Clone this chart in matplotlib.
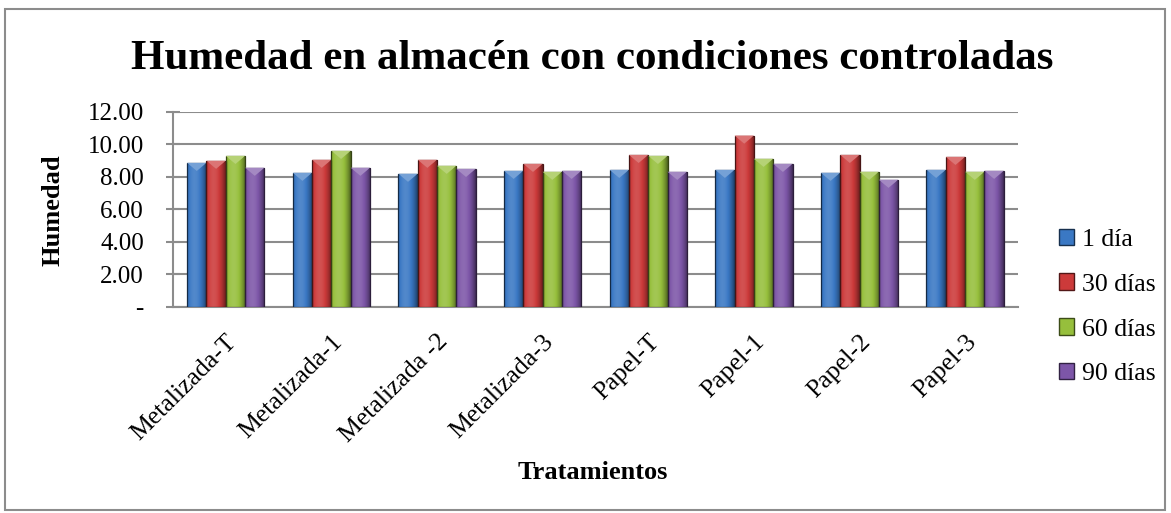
import numpy as np
import matplotlib.pyplot as plt
from matplotlib.patches import Rectangle, Polygon
from matplotlib.colors import to_rgb

plt.rcParams['font.family'] = ['Liberation Serif', 'DejaVu Serif']

tratamientos = ['Metalizada-T', 'Metalizada-1', 'Metalizada -2', 'Metalizada-3',
                'Papel-T', 'Papel-1', 'Papel-2', 'Papel-3']
series = ['1 día', '30 días', '60 días', '90 días']
dia_1 = [8.87, 8.26, 8.20, 8.38, 8.44, 8.44, 8.26, 8.44]
dias_30 = [9.00, 9.06, 9.06, 8.81, 9.36, 10.55, 9.36, 9.24]
dias_60 = [9.30, 9.61, 8.69, 8.32, 9.30, 9.12, 8.32, 8.32]
dias_90 = [8.57, 8.57, 8.50, 8.38, 8.32, 8.81, 7.83, 8.38]
yticks = [0, 2, 4, 6, 8, 10, 12]
ytick_labels = ['-', '2.00', '4.00', '6.00', '8.00', '10.00', '12.00']

colors = ['#3a78c4', '#cc3a3a', '#96bf3c', '#7d56a8']

fig = plt.figure(figsize=(11.71, 5.13), dpi=100)
fig.patches.append(Rectangle((5 / 1171, 3 / 513), 1160 / 1171, 501 / 513,
                             transform=fig.transFigure, fill=False,
                             edgecolor='#8c8c8c', linewidth=1.5))
ax = fig.add_axes([0.1477, 0.4016, 0.7216, 0.3801])


def shade(c, f):
    r = np.array(to_rgb(c))
    if f > 0:
        return tuple(r + (1 - r) * f)
    return tuple(r * (1 + f))


def bevel_bar(x, h, w, color):
    rect = Rectangle((x - w / 2, 0), w, h, facecolor=color,
                     edgecolor='none', zorder=3)
    ax.add_patch(rect)
    # horizontal gradient for the rounded look
    g = np.linspace(0, 1, 64)
    prof = 0.12 - 1.6 * (g - 0.38) ** 2
    img = np.zeros((1, 64, 3))
    base = np.array(to_rgb(color))
    for i, p in enumerate(prof):
        img[0, i] = base + (1 - base) * p if p > 0 else base * (1 + p)
    im = ax.imshow(np.clip(img, 0, 1), extent=(x - w / 2, x + w / 2, 0, h),
                   aspect='auto', zorder=3.5, interpolation='bilinear')
    im.set_clip_path(rect)
    edge = Rectangle((x - w / 2, 0), w, h, fill=False,
                     edgecolor=shade(color, -0.65), linewidth=0.9, zorder=4)
    ax.add_patch(edge)
    tri = Polygon([(x - w / 2, h), (x + w / 2, h), (x, h - 0.5)],
                  closed=True, facecolor=shade(color, 0.3),
                  edgecolor='none', zorder=4)
    ax.add_patch(tri)


values = [dia_1, dias_30, dias_60, dias_90]
n = len(tratamientos)
w = 0.183
xs = np.arange(n)
for k, (vals, c) in enumerate(zip(values, colors)):
    for i, v in enumerate(vals):
        bevel_bar(xs[i] + (k - 1.5) * w, v, w, c)

ax.set_xlim(-0.5, n - 0.5)
ax.set_ylim(0, 12)
ax.set_yticks(yticks)
ax.set_yticklabels(ytick_labels, fontsize=18)
ax.set_xticks(xs)
ax.set_xticklabels(tratamientos, rotation=45, ha='right', rotation_mode='anchor',
                   fontsize=18.5)
ax.tick_params(axis='x', length=0, pad=17)
ax.tick_params(axis='y', direction='inout', length=10, width=1.5, color='#8c8c8c', pad=16)
ax.grid(axis='y', color='#8c8c8c', linewidth=1.5, zorder=0)
ax.set_axisbelow(True)
for s in ['top', 'right']:
    ax.spines[s].set_visible(False)
for s in ['left', 'bottom']:
    ax.spines[s].set_color('#8c8c8c')
    ax.spines[s].set_linewidth(1.5)

fig.text(53 / 1171, 0.591, 'Humedad', fontsize=19, fontweight='bold',
         rotation=90, ha='center', va='center')
fig.text(0.506, 0.078, 'Tratamientos', fontsize=19, fontweight='bold', ha='center', va='center')
fig.text(0.506, 0.885, 'Humedad en almacén con condiciones controladas',
         fontsize=31, fontweight='bold', ha='center', va='center')

handles = [Rectangle((0, 0), 1, 1, facecolor=c, edgecolor=shade(c, -0.6)) for c in colors]
ax.legend(handles, series, loc='center left', bbox_to_anchor=(1.036, 0.0),
          frameon=False, fontsize=18.5, handlelength=0.6, handleheight=0.6,
          handletextpad=0.3, labelspacing=0.88, borderaxespad=0)

fig.savefig('out.png', dpi=100)
